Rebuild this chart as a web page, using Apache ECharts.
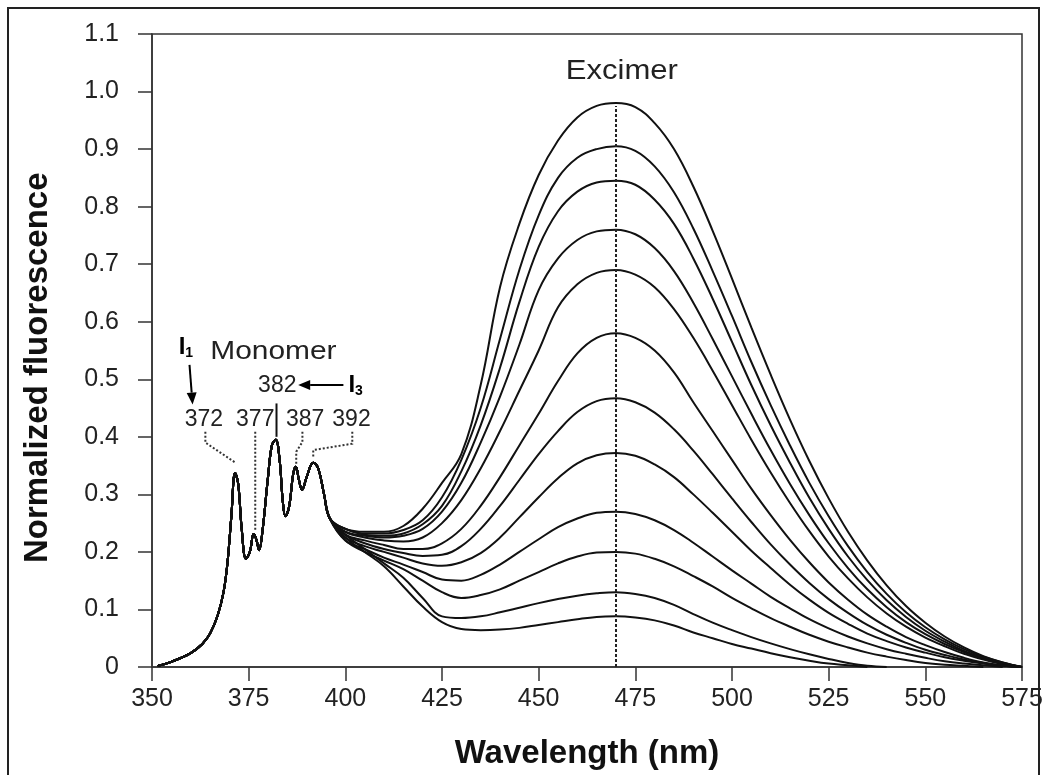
<!DOCTYPE html>
<html><head><meta charset="utf-8">
<script src="https://cdn.jsdelivr.net/npm/echarts@6/dist/echarts.min.js"></script>
<style>html,body{margin:0;padding:0;background:#fff}#c{width:1047px;height:775px}</style>
</head><body><div id="c"></div>
<script>
// ---- data ----
const xTickLabels = ['350','375','400','425','450','475','500','525','550','575'];
const yTickLabels = ['0','0.1','0.2','0.3','0.4','0.5','0.6','0.7','0.8','0.9','1.0','1.1'];
// shared monomer region [nm, value]
const monomer = [[351.5,0.002],[355,0.009],[360,0.024],[363,0.04],[365,0.058],[367,0.09],[368.5,0.13],[369.5,0.18],[370.5,0.26],[371.5,0.337],[372.3,0.318],[373.2,0.24],[374.3,0.188],[375.3,0.2],[376.3,0.231],[377,0.221],[377.7,0.203],[378.5,0.232],[380,0.33],[381,0.385],[382,0.395],[383,0.36],[383.8,0.29],[384.5,0.262],[385.5,0.28],[386.5,0.335],[387.2,0.348],[388,0.325],[388.8,0.308],[390,0.33],[391.7,0.355],[393,0.345],[394.5,0.3],[396,0.258]];
// excimer region wavelengths
const excWl = [400,405,410,415,420,425,430,435,440,445,450,455,460,465,470,475,480,485,490,495,500,505,510,515,520,525,530,535,540,545,550,555,560,565,570,575];
const c1  = [0.24,0.235,0.235,0.245,0.275,0.32,0.37,0.49,0.66,0.77,0.855,0.915,0.955,0.975,0.98,0.973,0.945,0.9,0.835,0.758,0.675,0.59,0.508,0.43,0.358,0.293,0.235,0.185,0.142,0.106,0.077,0.053,0.034,0.019,0.008,0];
const c2  = [0.24,0.232,0.232,0.238,0.255,0.295,0.36,0.45,0.57,0.69,0.785,0.85,0.885,0.9,0.905,0.897,0.87,0.825,0.762,0.688,0.61,0.53,0.455,0.385,0.32,0.262,0.21,0.165,0.127,0.095,0.069,0.048,0.031,0.018,0.008,0];
const c3  = [0.24,0.23,0.228,0.232,0.248,0.28,0.34,0.42,0.52,0.634,0.73,0.792,0.826,0.842,0.845,0.838,0.812,0.77,0.71,0.64,0.565,0.49,0.42,0.355,0.294,0.24,0.192,0.151,0.116,0.087,0.063,0.044,0.028,0.016,0.007,0];
const c4  = [0.235,0.228,0.225,0.228,0.24,0.27,0.32,0.39,0.47,0.56,0.655,0.71,0.742,0.757,0.76,0.752,0.728,0.688,0.633,0.57,0.505,0.44,0.377,0.318,0.264,0.215,0.172,0.135,0.104,0.078,0.057,0.04,0.026,0.015,0.006,0];
const c5  = [0.235,0.225,0.22,0.218,0.225,0.25,0.29,0.345,0.41,0.48,0.55,0.625,0.665,0.685,0.69,0.682,0.66,0.622,0.572,0.515,0.455,0.395,0.338,0.285,0.236,0.192,0.154,0.121,0.093,0.07,0.051,0.036,0.023,0.013,0.005,0];
const c6  = [0.23,0.22,0.212,0.205,0.205,0.215,0.24,0.28,0.33,0.385,0.44,0.497,0.545,0.572,0.58,0.572,0.55,0.512,0.46,0.41,0.36,0.31,0.264,0.221,0.182,0.147,0.117,0.091,0.07,0.052,0.038,0.026,0.016,0.008,0.003,0];
const c7  = [0.23,0.215,0.205,0.198,0.193,0.195,0.21,0.24,0.28,0.325,0.37,0.41,0.443,0.462,0.467,0.46,0.442,0.413,0.376,0.335,0.293,0.252,0.213,0.178,0.146,0.118,0.094,0.073,0.056,0.042,0.03,0.021,0.013,0.007,0.002,0];
const c8  = [0.225,0.21,0.2,0.19,0.18,0.176,0.182,0.198,0.225,0.26,0.295,0.328,0.354,0.368,0.372,0.367,0.352,0.33,0.3,0.268,0.235,0.202,0.172,0.143,0.117,0.094,0.075,0.058,0.045,0.034,0.025,0.017,0.011,0.006,0.002,0];
const c9  = [0.22,0.205,0.19,0.178,0.165,0.152,0.15,0.16,0.178,0.2,0.222,0.243,0.258,0.268,0.27,0.266,0.255,0.238,0.216,0.192,0.168,0.145,0.122,0.102,0.083,0.067,0.053,0.041,0.031,0.023,0.016,0.01,0.006,0.003,0];
const c10 = [0.22,0.2,0.185,0.17,0.15,0.13,0.12,0.125,0.135,0.15,0.165,0.18,0.192,0.199,0.2,0.197,0.188,0.175,0.158,0.14,0.12,0.102,0.085,0.07,0.056,0.044,0.034,0.025,0.018,0.012,0.007,0.004,0.002,0];
const c11 = [0.23,0.205,0.18,0.155,0.12,0.088,0.085,0.088,0.095,0.103,0.111,0.118,0.124,0.128,0.13,0.127,0.12,0.108,0.092,0.077,0.064,0.052,0.041,0.031,0.022,0.014,0.007,0.002,0];
const c12 = [0.225,0.2,0.175,0.14,0.105,0.078,0.066,0.064,0.065,0.068,0.073,0.078,0.083,0.087,0.088,0.086,0.081,0.072,0.06,0.05,0.04,0.032,0.024,0.017,0.011,0.006,0.003,0];
const curves = [c1,c2,c3,c4,c5,c6,c7,c8,c9,c10,c11,c12];
const excimerPeakNm = 470;
const excimerTop = 0.975;

// ---- chart ----
const chart = echarts.init(document.getElementById('c'));
const FONT = '"Liberation Sans", Arial, sans-serif';
const series = curves.map(function (vals) {
  const data = monomer.slice();
  vals.forEach(function (v, i) { data.push([excWl[i], v]); });
  return {
    type: 'line', data: data, showSymbol: false, smooth: 0.4,
    lineStyle: { color: '#111', width: 2 }, silent: true, z: 3
  };
});
series[0].markLine = {
  silent: true, symbol: 'none', label: { show: false },
  lineStyle: { color: '#222', type: [3, 2], width: 2 },
  data: [[{ coord: [excimerPeakNm, 0] }, { coord: [excimerPeakNm, excimerTop] }]]
};

chart.setOption({
  animation: false,
  backgroundColor: '#fff',
  grid: { left: 152, right: 25, top: 34, bottom: 108, show: true, borderColor: '#333', borderWidth: 1.5, backgroundColor: 'transparent' },
  xAxis: {
    type: 'value', min: 350, max: 575, interval: 25,
    name: 'Wavelength (nm)', nameLocation: 'middle', nameGap: 70,
    nameTextStyle: { fontFamily: FONT, fontWeight: 'bold', fontSize: 33, color: '#111' },
    axisLine: { show: true, lineStyle: { color: '#333', width: 1.5 } },
    axisTick: { show: true, inside: false, length: 14, lineStyle: { color: '#333', width: 1.5 } },
    axisLabel: { margin: 20, fontFamily: FONT, fontSize: 25, color: '#222',
      formatter: function (v) { return xTickLabels[Math.round((v - 350) / 25)]; } },
    splitLine: { show: false }
  },
  yAxis: {
    type: 'value', min: 0, max: 1.1, interval: 0.1,
    axisLine: { show: true, lineStyle: { color: '#333', width: 1.5 } },
    axisTick: { show: true, inside: false, length: 14, lineStyle: { color: '#333', width: 1.5 } },
    axisLabel: { margin: 33, fontFamily: FONT, fontSize: 25, color: '#222',
      formatter: function (v) { return yTickLabels[Math.round(v * 10)]; } },
    splitLine: { show: false }
  },
  series: series
});

function p(nm, v) { return chart.convertToPixel({ gridIndex: 0 }, [nm, v]); }
function dotted(pts) {
  return { type: 'polyline', shape: { points: pts.map(function (q) { return p(q[0], q[1]); }) },
    style: { stroke: '#333', lineWidth: 2, lineDash: [2, 2], fill: null }, z: 10 };
}
function txt(nm, v, s, size, sx) {
  const q = p(nm, v);
  return { type: 'text', x: q[0], y: q[1], scaleX: sx || 1, z: 10,
    style: { text: s, font: size + 'px ' + FONT, fill: '#222', align: 'center', verticalAlign: 'middle' } };
}
function arrow(a, b) {
  const A = p(a[0], a[1]), B = p(b[0], b[1]);
  const ang = Math.atan2(B[1] - A[1], B[0] - A[0]);
  const L = 12, W = 5;
  const bx = B[0] - L * Math.cos(ang), by = B[1] - L * Math.sin(ang);
  return [
    { type: 'line', shape: { x1: A[0], y1: A[1], x2: bx, y2: by }, style: { stroke: '#000', lineWidth: 2 }, z: 10 },
    { type: 'polygon', shape: { points: [[B[0], B[1]], [bx - W * Math.sin(ang), by + W * Math.cos(ang)], [bx + W * Math.sin(ang), by - W * Math.cos(ang)]] }, style: { fill: '#000' }, z: 10 }
  ];
}
const g = [];
g.push({ type: 'rect', shape: { x: 8, y: 8, width: 1031, height: 780 }, style: { stroke: '#222', lineWidth: 2, fill: null }, z: 1 });
// y-axis title (as text so it can sit where the original has it)
(function () {
  const mid = p(350, 0.52);
  g.push({ type: 'text', x: 38, y: mid[1], rotation: Math.PI / 2, z: 10,
    style: { text: 'Normalized fluorescence', font: 'bold 33px ' + FONT, fill: '#111', align: 'center', verticalAlign: 'middle' } });
})();
g.push(txt(471.5, 1.035, 'Excimer', 27, 1.15));
g.push(txt(381.4, 0.548, 'Monomer', 26, 1.15));
g.push(txt(363.4, 0.43, '372', 23));
g.push(txt(376.7, 0.43, '377', 23));
g.push(txt(389.6, 0.43, '387', 23));
g.push(txt(401.6, 0.43, '392', 23));
g.push(txt(382.4, 0.489, '382', 23));
(function () {
  const q1 = p(356.9, 0.556), q3 = p(400.8, 0.49);
  const rich = { b: { font: 'bold 24px ' + FONT, fill: '#000' }, s: { font: 'bold 14px ' + FONT, fill: '#000', padding: [12, 0, 0, 0] } };
  g.push({ type: 'text', x: q1[0], y: q1[1], z: 10, style: { text: '{b|I}{s|1}', rich: rich, verticalAlign: 'middle', align: 'left' } });
  g.push({ type: 'text', x: q3[0], y: q3[1], z: 10, style: { text: '{b|I}{s|3}', rich: rich, verticalAlign: 'middle', align: 'left' } });
})();
arrow([359.7, 0.525], [360.5, 0.456]).forEach(function (e) { g.push(e); });
arrow([399.5, 0.49], [387.8, 0.49]).forEach(function (e) { g.push(e); });
(function () {
  const a = p(382.2, 0.458), b = p(382.2, 0.40);
  g.push({ type: 'line', shape: { x1: a[0], y1: a[1], x2: b[0], y2: b[1] }, style: { stroke: '#111', lineWidth: 2 }, z: 10 });
})();
g.push(dotted([[363.8, 0.409], [363.8, 0.39], [371.6, 0.355]]));
g.push(dotted([[376.7, 0.409], [376.7, 0.235]]));
g.push(dotted([[388.9, 0.409], [388.9, 0.391], [387.3, 0.374], [387.3, 0.352]]));
g.push(dotted([[401.8, 0.409], [401.8, 0.388], [391.7, 0.377], [391.7, 0.363]]));
chart.setOption({ graphic: g });
</script>
</body></html>
